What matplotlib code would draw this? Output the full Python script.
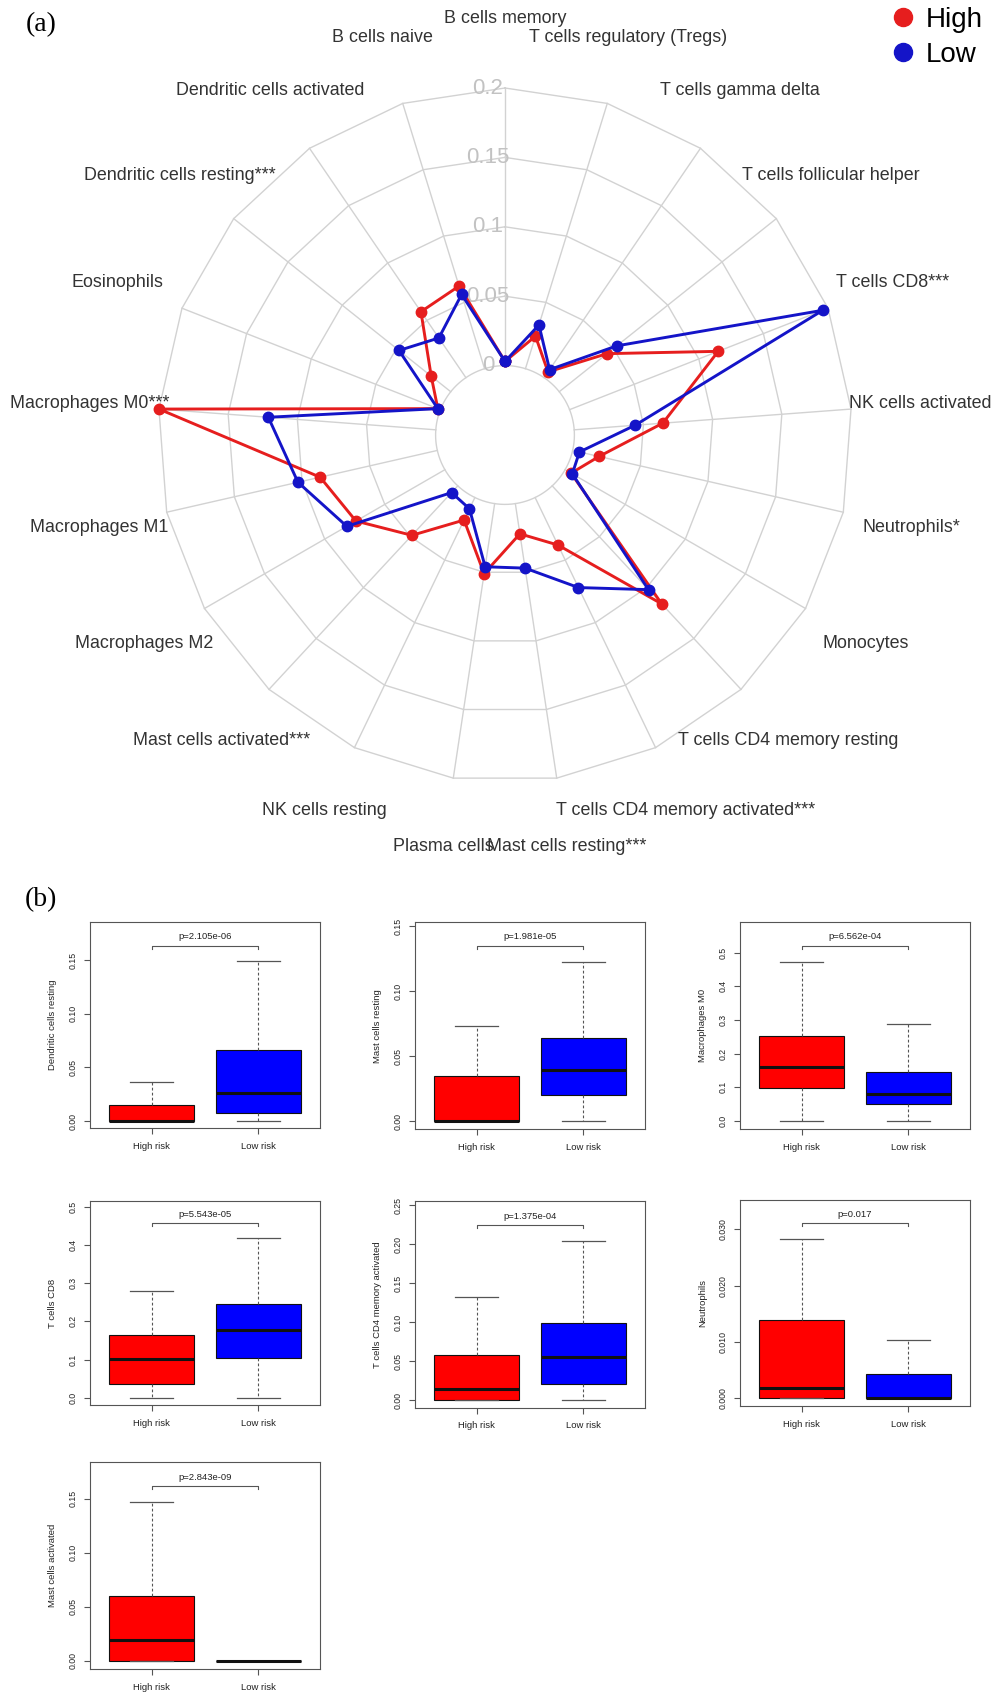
import numpy as np
import matplotlib
matplotlib.use("Agg")
import matplotlib.pyplot as plt
from matplotlib.lines import Line2D
from matplotlib.transforms import ScaledTranslation

W, H, DPI = 994, 1695, 100

# ---------------- radar data ----------------
cell_types = ["B cells memory", "T cells regulatory (Tregs)", "T cells gamma delta",
              "T cells follicular helper", "T cells CD8***", "NK cells activated",
              "Neutrophils*", "Monocytes", "T cells CD4 memory resting",
              "T cells CD4 memory activated***", "Mast cells resting***", "Plasma cells",
              "NK cells resting", "Mast cells activated***", "Macrophages M2",
              "Macrophages M1", "Macrophages M0***", "Eosinophils",
              "Dendritic cells resting***", "Dendritic cells activated", "B cells naive"]
high_fraction = [0.003, 0.0245, 0.005, 0.044, 0.115, 0.064, 0.0195, 0.005, 0.116, 0.038,
                 0.022, 0.051, 0.018, 0.0486, 0.074, 0.0866, 0.200, 0.002, 0.018, 0.0575, 0.0623]
low_fraction = [0.003, 0.033, 0.007, 0.053, 0.196, 0.044, 0.005, 0.006, 0.102, 0.072,
                0.047, 0.046, 0.009, 0.0066, 0.0816, 0.103, 0.121, 0.002, 0.0477, 0.0346, 0.056]
ring_levels = [0, 0.05, 0.1, 0.15, 0.2]
ring_labels = ["0", "0.05", "0.1", "0.15", "0.2"]
group_names = ["High", "Low"]

# ---------------- boxplot data ----------------
box_cells = ["Dendritic cells resting", "Mast cells resting", "Macrophages M0", "T cells CD8",
             "T cells CD4 memory activated", "Neutrophils", "Mast cells activated"]
box_pvalues = ["p=2.105e-06", "p=1.981e-05", "p=6.562e-04", "p=5.543e-05",
               "p=1.375e-04", "p=0.017", "p=2.843e-09"]
risk_groups = ["High risk", "Low risk"]
# [lower whisker, Q1, median, Q3, upper whisker]
high_risk_stats = [[0, 0, 0.0003, 0.015, 0.0367],
                   [0, 0, 0.0003, 0.0348, 0.0734],
                   [0, 0.099, 0.1594, 0.2535, 0.473],
                   [0, 0.0367, 0.1014, 0.164, 0.281],
                   [0, 0, 0.0148, 0.0587, 0.1328],
                   [0, 0, 0.00176, 0.01386, 0.02835],
                   [0, 0, 0.0188, 0.0596, 0.147]]
low_risk_stats = [[0, 0.0078, 0.0258, 0.0663, 0.1494],
                  [0, 0.0202, 0.0392, 0.0642, 0.1226],
                  [0, 0.0495, 0.0792, 0.1455, 0.289],
                  [0, 0.1048, 0.1765, 0.246, 0.4176],
                  [0, 0.0214, 0.056, 0.0994, 0.2047],
                  [0, 0, 0, 0.00433, 0.01025],
                  [0, 0, 0, 0, 0]]
bracket_levels = [0.1636, 0.1346, 0.5207, 0.4577, 0.2247, 0.0311, 0.1615]
box_yticks = [[0, 0.05, 0.10, 0.15], [0, 0.05, 0.10, 0.15], [0, 0.1, 0.2, 0.3, 0.4, 0.5],
              [0, 0.1, 0.2, 0.3, 0.4, 0.5], [0, 0.05, 0.10, 0.15, 0.20, 0.25],
              [0, 0.010, 0.020, 0.030], [0, 0.05, 0.10, 0.15]]
tick_decimals = [2, 2, 1, 1, 2, 3, 2]

# ---------------- layout (pixels) ----------------
box_frames = [(90, 921.7, 320, 1128.3), (415, 922.3, 645, 1129.3), (740, 922.3, 970, 1129),
              (90, 1201.2, 320, 1405), (415, 1201.2, 645, 1407.5), (740, 1199.6, 970, 1406),
              (90, 1462.3, 320, 1669)]
box_ylims = [(-0.0068, 0.186), (-0.0061, 0.1528), (-0.0238, 0.590), (-0.019, 0.515),
             (-0.0092, 0.2554), (-0.0014, 0.0353), (-0.0077, 0.1835)]

RED, BLUE = "#e61e1e", "#1414c8"
GRID = "#d2d2d2"


def px_rect(l, t, r, b):
    return [l / W, 1 - b / H, (r - l) / W, (b - t) / H]


fig = plt.figure(figsize=(W / DPI, H / DPI), dpi=DPI)
fig.patch.set_facecolor("white")
plt.rcParams["font.family"] = ["Liberation Sans", "DejaVu Sans"]

# ================= radar =================
cx, cy, R = 505, 435, 347
ax = fig.add_axes(px_rect(cx - R, cy - R, cx + R, cy + R), projection="polar")
ax.set_theta_offset(np.pi / 2)
ax.set_theta_direction(-1)
ax.set_ylim(ring_levels[0], ring_levels[-1])
ax.set_rorigin(-ring_levels[1])
ax.grid(False)
ax.set_xticks([])
ax.set_yticks([])
ax.axis("off")

n = len(cell_types)
theta = np.arange(n) * 2 * np.pi / n
theta_c = np.append(theta, theta[0])
for lvl in ring_levels[1:]:
    ax.plot(theta_c, [lvl] * (n + 1), color=GRID, lw=1, zorder=1, clip_on=False)
circ = np.linspace(0, 2 * np.pi, 360)
ax.plot(circ, np.full_like(circ, ring_levels[0]), color=GRID, lw=1, zorder=1, clip_on=False)
for t in theta:
    ax.plot([t, t], [ring_levels[0], ring_levels[-1]], color=GRID, lw=1, zorder=1, clip_on=False)

lab_off = ax.transData + ScaledTranslation(-0.17, 0, fig.dpi_scale_trans)
for lvl, lab in zip(ring_levels, ring_labels):
    ax.text(0, lvl, lab, transform=lab_off, ha="center", va="center",
            fontsize=16, color="#c2c2c2", zorder=2)

for vals, col in [(high_fraction, RED), (low_fraction, BLUE)]:
    v = np.append(vals, vals[0])
    ax.plot(theta_c, v, color=col, lw=2.1, marker="o", ms=7.5, clip_on=False, zorder=4)

r_lab = ring_levels[-1] + ring_levels[1]
for t, name in zip(theta, cell_types):
    ax.text(t, r_lab, name, ha="center", va="center", fontsize=12.9, color="#333333")

handles = [Line2D([], [], color=c, marker="o", ls="", ms=13) for c in (RED, BLUE)]
fig.legend(handles, group_names, loc="upper left", bbox_to_anchor=(892 / W, 1 - 7 / H),
           frameon=False, fontsize=20, handlelength=0.8, handletextpad=0.4,
           labelspacing=0.33, borderpad=0, borderaxespad=0)

fig.text(41 / W, 1 - 25 / H, "(a)", ha="center", va="center", fontsize=20,
         family=["Liberation Serif", "DejaVu Serif"])
fig.text(41 / W, 1 - 900 / H, "(b)", ha="center", va="center", fontsize=20,
         family=["Liberation Serif", "DejaVu Serif"])

# ================= boxplots =================
AXC = "#555555"
for i in range(len(box_cells)):
    bax = fig.add_axes(px_rect(*box_frames[i]))
    stats = []
    for st, lab in zip((high_risk_stats[i], low_risk_stats[i]), risk_groups):
        stats.append(dict(whislo=st[0], q1=st[1], med=st[2], q3=st[3], whishi=st[4], label=lab))
    bp = bax.bxp(stats, positions=[1, 2], widths=0.8, patch_artist=True, showfliers=False,
                 capwidths=0.4,
                 boxprops=dict(edgecolor="#111111", linewidth=0.8),
                 medianprops=dict(color="#111111", linewidth=2.2),
                 whiskerprops=dict(color="#555555", linestyle=(0, (2.5, 2)), linewidth=0.8),
                 capprops=dict(color="#555555", linewidth=0.9))
    for patch, col in zip(bp["boxes"], ["#ff0000", "#0000ff"]):
        patch.set_facecolor(col)
    bax.set_xlim(0.42, 2.58)
    y0, y1 = box_ylims[i]
    bax.set_ylim(y0, y1)
    bax.set_xticks([1, 2])
    bax.set_xticklabels(risk_groups)
    yt = box_yticks[i]
    bax.set_yticks(yt)
    bax.set_yticklabels([f"{v:.{tick_decimals[i]}f}" for v in yt], rotation=90, va="center")
    bax.tick_params(axis="both", direction="out", length=4, width=0.8, color=AXC,
                    labelsize=6.3, labelcolor="#222222")
    bax.tick_params(axis="x", pad=6, labelsize=6.8)
    bax.tick_params(axis="y", pad=5)
    bax.set_ylabel(box_cells[i], fontsize=6.8, color="#222222", labelpad=8)
    for s in bax.spines.values():
        s.set_color(AXC)
        s.set_linewidth(0.8)
    fh = box_frames[i][3] - box_frames[i][1]
    d = 3 * (y1 - y0) / fh
    b = bracket_levels[i]
    bax.plot([1, 1, 2, 2], [b - d, b, b, b - d], color=AXC, lw=0.8)
    bax.annotate(box_pvalues[i], (1.5, b), xytext=(0, 6.5), textcoords="offset points",
                 ha="center", va="center", fontsize=6.8, color="#222222")

fig.savefig("out.png", dpi=DPI, facecolor="white")
